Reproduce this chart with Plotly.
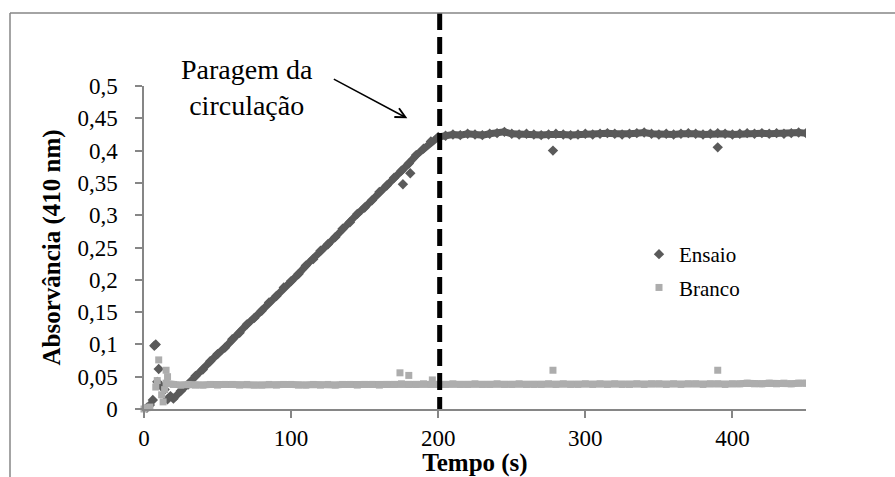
import plotly.graph_objects as go

# ---------------- data ----------------
# Ensaio (assay) – main band
ensaio_t = [20, 25, 30, 35, 40, 45, 50, 55, 60, 65, 70, 75, 80, 85, 90, 95, 100,
            105, 110, 115, 120, 125, 130, 135, 140, 145, 150, 155, 160, 165, 170,
            175, 180, 185, 190, 195, 200,
            205, 210, 215, 220, 225, 230, 235, 240, 245, 250, 255, 260, 265, 270,
            275, 280, 285, 290, 295, 300, 305, 310, 315, 320, 325, 330, 335, 340,
            345, 350, 355, 360, 365, 370, 375, 380, 385, 390, 395, 400, 405, 410,
            415, 420, 425, 430, 435, 440, 445, 450]
ensaio_abs = [0.016, 0.028, 0.038, 0.051, 0.061, 0.074, 0.085, 0.095, 0.108, 0.118,
              0.131, 0.141, 0.152, 0.165, 0.175, 0.188, 0.198, 0.209, 0.222, 0.232,
              0.245, 0.255, 0.266, 0.279, 0.289, 0.302, 0.312, 0.323, 0.336, 0.346,
              0.358, 0.369, 0.380, 0.393, 0.403, 0.414, 0.421,
              0.423, 0.425, 0.424, 0.426, 0.425, 0.424, 0.426, 0.427, 0.429, 0.426,
              0.425, 0.426, 0.425, 0.424, 0.425, 0.426, 0.425, 0.424, 0.425, 0.426,
              0.425, 0.426, 0.427, 0.426, 0.425, 0.426, 0.427, 0.428, 0.426, 0.425,
              0.426, 0.425, 0.426, 0.427, 0.426, 0.425, 0.426, 0.427, 0.426, 0.425,
              0.426, 0.427, 0.426, 0.427, 0.426, 0.427, 0.426, 0.427, 0.428, 0.427]
# Ensaio – scattered start-up points and outliers
ensaio_pts_t = [2, 4, 6, 7, 8, 9, 10, 12, 14, 16, 18, 176, 181, 278, 390]
ensaio_pts_abs = [0.002, 0.006, 0.014, 0.098, 0.100, 0.042, 0.062, 0.035, 0.030,
                  0.015, 0.020, 0.348, 0.365, 0.400, 0.405]

# Branco (blank) – main band
branco_t = [15, 20, 25, 30, 35, 40, 45, 50, 55, 60, 65, 70, 75, 80, 85, 90, 95, 100,
            105, 110, 115, 120, 125, 130, 135, 140, 145, 150, 155, 160, 165, 170,
            175, 180, 185, 190, 195, 200,
            205, 210, 215, 220, 225, 230, 235, 240, 245, 250, 255, 260, 265, 270,
            275, 280, 285, 290, 295, 300,
            305, 310, 315, 320, 325, 330, 335, 340, 345, 350, 355, 360, 365, 370,
            375, 380, 385, 390, 395, 400,
            405, 410, 415, 420, 425, 430, 435, 440, 445, 450]
branco_abs = [0.040, 0.038, 0.037, 0.038, 0.037, 0.037, 0.038, 0.037, 0.038, 0.038,
              0.037, 0.038, 0.037, 0.037, 0.038, 0.037, 0.038, 0.038,
              0.037, 0.037, 0.038, 0.037, 0.038, 0.037, 0.038, 0.038, 0.037, 0.038,
              0.038, 0.037, 0.038, 0.038, 0.039, 0.038, 0.038, 0.039, 0.038, 0.038,
              0.038, 0.039, 0.038, 0.038, 0.039, 0.038, 0.038, 0.039, 0.038, 0.038,
              0.039, 0.038, 0.038, 0.038, 0.039, 0.038, 0.039, 0.038, 0.038, 0.039,
              0.038, 0.039, 0.038, 0.039, 0.038, 0.038, 0.039, 0.038, 0.039, 0.039,
              0.038, 0.039, 0.038, 0.039, 0.039, 0.038, 0.039, 0.039, 0.038, 0.039,
              0.039, 0.040, 0.039, 0.039, 0.040, 0.039, 0.040, 0.039, 0.040, 0.040]
# Branco – scattered start-up points and outliers
branco_pts_t = [0, 2, 4, 8, 9, 10, 12, 13, 14, 15, 16, 174, 180, 196, 278, 390]
branco_pts_abs = [0.000, 0.002, 0.003, 0.034, 0.044, 0.076, 0.022, 0.011, 0.030,
                  0.060, 0.050, 0.056, 0.052, 0.045, 0.060, 0.060]

stop_t = 201           # circulation stopped (dashed line)
arrow_tip = (179, 0.450)

x_ticks = [0, 100, 200, 300, 400]
y_ticks = [0, 0.05, 0.1, 0.15, 0.2, 0.25, 0.3, 0.35, 0.4, 0.45, 0.5]

# ---------------- layout constants (pixels) ----------------
W, H = 895, 477
L, R, T, B = 144, 806, 86, 409
FONT = "Times New Roman, Liberation Serif, Tinos, serif"
DARK = "#5a5a5a"
LIGHT = "#adadad"
AXC = "#868686"


def px_x(p):
    return (p - L) / (R - L)


def px_y(p):
    return (B - p) / (B - T)


fig = go.Figure()

fig.add_trace(go.Scatter(x=ensaio_t, y=ensaio_abs, mode="lines+markers",
                         line=dict(color=DARK, width=7),
                         marker=dict(symbol="diamond", size=8, color=DARK),
                         legendgroup="e", showlegend=False, hoverinfo="skip"))
fig.add_trace(go.Scatter(x=ensaio_pts_t, y=ensaio_pts_abs, mode="markers",
                         name="Ensaio", legendgroup="e", cliponaxis=False,
                         marker=dict(symbol="diamond", size=8, color=DARK)))
fig.add_trace(go.Scatter(x=branco_t, y=branco_abs, mode="lines+markers",
                         line=dict(color=LIGHT, width=7),
                         marker=dict(symbol="square", size=7, color=LIGHT),
                         legendgroup="b", showlegend=False, hoverinfo="skip"))
fig.add_trace(go.Scatter(x=branco_pts_t, y=branco_pts_abs, mode="markers",
                         name="Branco", legendgroup="b", cliponaxis=False,
                         marker=dict(symbol="square", size=7, color=LIGHT)))

# dashed vertical line marking stop of circulation
fig.add_shape(type="line", xref="x", yref="paper",
              x0=stop_t, x1=stop_t, y0=px_y(13), y1=0,
              line=dict(color="black", width=5, dash="17px,7px"), layer="above")

# outer frame (partially visible, as in the cropped original)
fig.add_shape(type="line", xref="paper", yref="paper",
              x0=px_x(10), x1=px_x(10), y0=px_y(13), y1=px_y(H + 5),
              line=dict(color=AXC, width=1.5))
fig.add_shape(type="line", xref="paper", yref="paper",
              x0=px_x(10), x1=px_x(W + 5), y0=px_y(13), y1=px_y(13),
              line=dict(color=AXC, width=1.5))

# annotation text and arrow
fig.add_annotation(text="Paragem da<br>circulação", xref="paper", yref="paper",
                   x=px_x(247), y=px_y(88), showarrow=False,
                   font=dict(family=FONT, size=28, color="black"),
                   xanchor="center", yanchor="middle")
fig.add_annotation(text="", x=arrow_tip[0], y=arrow_tip[1], xref="x", yref="y",
                   ax=-75, ay=-40, showarrow=True, arrowhead=5, arrowsize=1.3,
                   arrowwidth=1.5, arrowcolor="black")

fig.update_layout(
    width=W, height=H,
    margin=dict(l=L, r=W - R, t=T, b=H - B, autoexpand=False),
    paper_bgcolor="white", plot_bgcolor="white",
    separators=", ",
    font=dict(family=FONT, size=23, color="black"),
    showlegend=True,
    legend=dict(x=px_x(639), y=px_y(234), xanchor="left", yanchor="top",
                bgcolor="rgba(0,0,0,0)", font=dict(family=FONT, size=21),
                traceorder="grouped", tracegroupgap=3),
    xaxis=dict(range=[0, 450], tickvals=x_ticks, showgrid=False, zeroline=False,
               showline=True, linecolor=AXC, linewidth=1.5,
               ticks="outside", ticklen=7, tickcolor=AXC, tickwidth=1.5,
               tickfont=dict(family=FONT, size=23), ticklabelstandoff=1,
               title=dict(text="<b>Tempo (s)</b>", font=dict(family=FONT, size=25),
                          standoff=4)),
    yaxis=dict(range=[0, 0.5], tickvals=y_ticks, showgrid=False, zeroline=False,
               showline=True, linecolor=AXC, linewidth=1.5,
               ticks="outside", ticklen=7, tickcolor=AXC, tickwidth=1.5,
               tickfont=dict(family=FONT, size=23), ticklabelstandoff=13,
               title=dict(text="<b>Absorvância (410 nm)</b>",
                          font=dict(family=FONT, size=25), standoff=10)),
)

fig.write_html("out.html")
